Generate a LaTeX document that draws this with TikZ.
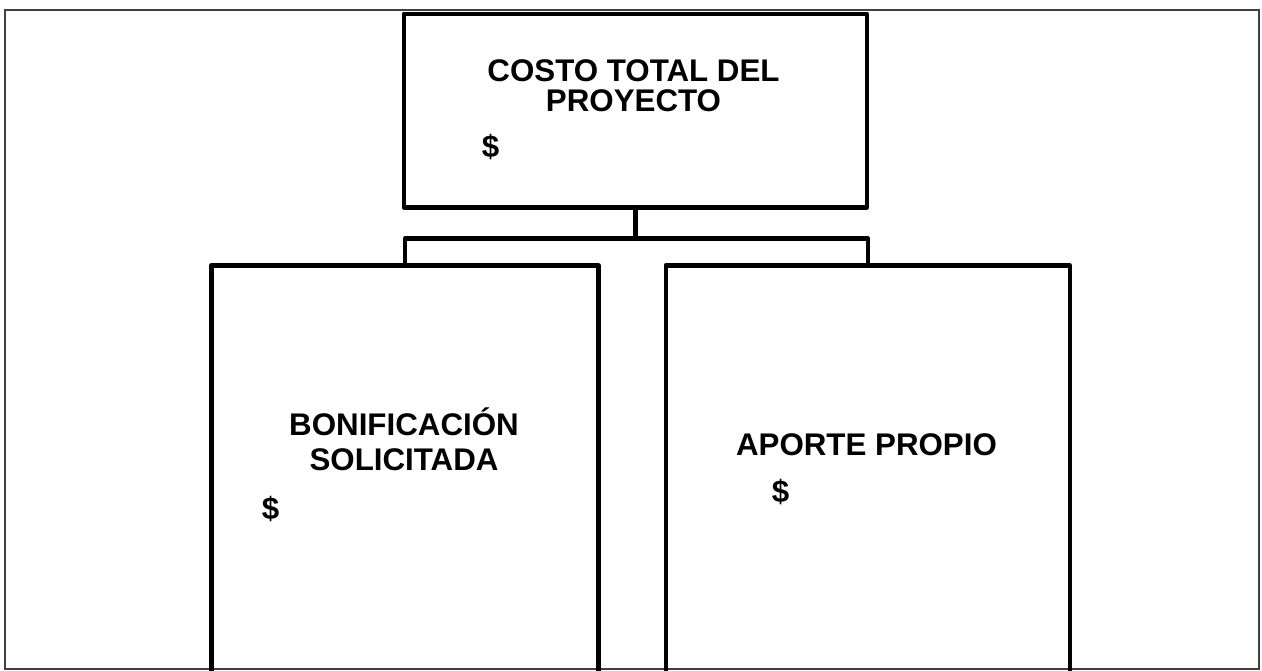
\documentclass[tikz,border=0pt]{standalone}
\usepackage{fontspec}
\setmainfont{Liberation Sans}
\begin{document}
\begin{tikzpicture}[x=1pt,y=-1pt,
  box/.style={draw=black, line width=4.5pt, line join=round, rectangle, inner sep=0pt, anchor=north west},
  link/.style={draw=black, line width=4.5pt, line join=round},
  frame/.style={draw=black!75, line width=2pt},
  lbl/.style={font=\bfseries\fontsize{31.3}{30}\selectfont, inner sep=0pt, align=center, anchor=base},
  lblw/.style={font=\bfseries\fontsize{31.3}{35}\selectfont, inner sep=0pt, align=center, anchor=base}]
\useasboundingbox (0,0) rectangle (1262,670);
\clip (0,0) rectangle (1262,670);
\draw[frame] (5,10) rectangle (1259,669);
\node[box, minimum width=463pt, minimum height=193.5pt] (top) at (401.5,11.5) {};
\node[box, minimum width=387pt, minimum height=440pt] (left) at (209,263) {};
\node[box, minimum width=404pt, minimum height=440pt] (right) at (663.5,263) {};
\draw[link] (top.south) -- ++(0,29) coordinate (j) -| (left.north);
\draw[link] (j) -| (right.north);
\node[lbl] (t1) at (633.5,111) {COSTO TOTAL DEL\\PROYECTO};
\node[lbl] (d1) at (490.5,157) {\$};
\node[lblw] (t2) at (404,470) {BONIFICACIÓN\\SOLICITADA};
\node[lbl] (d2) at (270.5,519) {\$};
\node[lbl] (t3) at (866.5,455) {APORTE PROPIO};
\node[lbl] (d3) at (780.5,502) {\$};
\end{tikzpicture}
\end{document}
